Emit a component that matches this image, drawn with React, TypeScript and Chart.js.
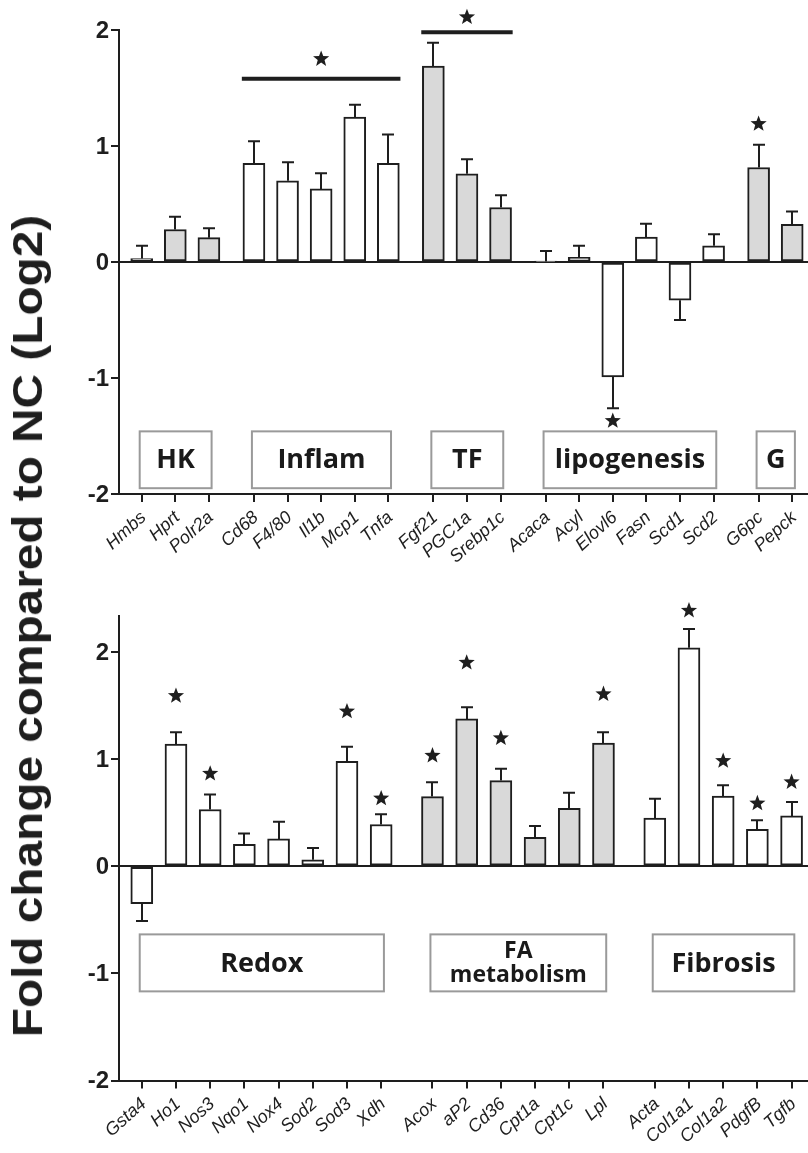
import React, { useEffect, useRef } from 'react';
import { Chart, registerables } from 'chart.js';

Chart.register(...registerables);

const INK = '#1e1e1e';
const GREY = '#d9d9d9';
const WHITE = '#ffffff';

// ---------- Top panel data ----------
const topGroups = ['HK', 'Inflam', 'TF', 'lipogenesis', 'G'];
const topGroupSizes = [3, 5, 3, 6, 2];
const topGenes = ['Hmbs', 'Hprt', 'Polr2a', 'Cd68', 'F4/80', 'Il1b', 'Mcp1', 'Tnfa', 'Fgf21', 'PGC1a', 'Srebp1c', 'Acaca', 'Acyl', 'Elovl6', 'Fasn', 'Scd1', 'Scd2', 'G6pc', 'Pepck'];
const topValues = [0.03, 0.28, 0.21, 0.85, 0.70, 0.63, 1.25, 0.85, 1.69, 0.76, 0.47, 0.005, 0.04, -0.99, 0.215, -0.33, 0.14, 0.815, 0.325];
const topErrors = [0.11, 0.11, 0.08, 0.19, 0.16, 0.135, 0.105, 0.25, 0.20, 0.125, 0.105, 0.09, 0.10, 0.27, 0.115, 0.17, 0.10, 0.195, 0.11];
const topStars = [null, null, null, null, null, null, null, null, null, null, null, null, null, -1.37, null, null, null, 1.19, null];
// group-level significance: group index, bar line level, star level
const topBracketGroups = [1, 2];
const topBracketLines = [1.58, 1.98];
const topBracketStars = [1.75, 2.11];
const topYTicks = [-2, -1, 0, 1, 2];

// ---------- Bottom panel data ----------
const bottomGroups = ['Redox', 'FA\nmetabolism', 'Fibrosis'];
const bottomGroupSizes = [8, 6, 5];
const bottomGenes = ['Gsta4', 'Ho1', 'Nos3', 'Nqo1', 'Nox4', 'Sod2', 'Sod3', 'Xdh', 'Acox', 'aP2', 'Cd36', 'Cpt1a', 'Cpt1c', 'Lpl', 'Acta', 'Col1a1', 'Col1a2', 'PdgfB', 'Tgfb'];
const bottomValues = [-0.35, 1.14, 0.53, 0.205, 0.255, 0.06, 0.98, 0.39, 0.65, 1.375, 0.80, 0.27, 0.54, 1.15, 0.45, 2.04, 0.655, 0.345, 0.47];
const bottomErrors = [0.16, 0.11, 0.14, 0.10, 0.16, 0.11, 0.135, 0.095, 0.135, 0.11, 0.11, 0.105, 0.145, 0.10, 0.18, 0.175, 0.10, 0.085, 0.13];
const bottomStars = [null, 1.59, 0.864, null, null, null, 1.445, 0.633, 1.033, 1.9, 1.195, null, null, 1.607, null, 2.387, 0.983, 0.587, 0.786];
const bottomYTicks = [-2, -1, 0, 1, 2];

type Spec = {
  genes: string[]; values: number[]; errors: number[]; stars: (number | null)[];
  groups: string[]; sizes: number[]; groupFills: string[]; gap: number;
  xMin: number; xMax: number; yMin: number; yMax: number; yTicks: number[];
  padTop: number; xAxisHeight: number; boxTop: number; boxBottom: number;
  boxFont: number; boxFontMulti: number; brackets: { g: number; line: number; star: number }[];
};

const X_FONT = 'italic 18px "Liberation Sans"';
const Y_FONT = 'bold 24px "Liberation Sans"';
const X_ROT = (-42 * Math.PI) / 180;

function buildPositions(sizes: number[], gap: number) {
  const pos: number[] = [];
  let x = 0;
  sizes.forEach((n) => {
    for (let i = 0; i < n; i++) { pos.push(x); x += 1; }
    x += gap;
  });
  return pos;
}

function drawStar(ctx: CanvasRenderingContext2D, cx: number, cy: number, r: number) {
  ctx.beginPath();
  for (let i = 0; i < 10; i++) {
    const rad = i % 2 === 0 ? r : r * 0.42;
    const a = -Math.PI / 2 + (i * Math.PI) / 5;
    const px = cx + rad * Math.cos(a);
    const py = cy + rad * Math.sin(a);
    if (i === 0) ctx.moveTo(px, py); else ctx.lineTo(px, py);
  }
  ctx.closePath();
  ctx.fill();
}

function makeChart(canvas: HTMLCanvasElement, spec: Spec) {
  const pos = buildPositions(spec.sizes, spec.gap);
  const fills: string[] = [];
  const groupStart: number[] = [];
  let k = 0;
  spec.sizes.forEach((n, g) => {
    groupStart.push(k);
    for (let i = 0; i < n; i++) fills.push(spec.groupFills[g]);
    k += n;
  });
  const data = spec.values.map((v, i) => ({ x: pos[i], y: v }));

  const overlay = {
    id: 'overlay',
    afterDatasetsDraw(chart: any) {
      const ctx: CanvasRenderingContext2D = chart.ctx;
      const xs = chart.scales.x;
      const ys = chart.scales.y;
      ctx.save();
      // error bars (away from zero)
      ctx.strokeStyle = INK;
      ctx.lineWidth = 2;
      spec.values.forEach((v, i) => {
        const x = Math.round(xs.getPixelForValue(pos[i]));
        const end = v >= 0 ? v + spec.errors[i] : v - spec.errors[i];
        const y0 = ys.getPixelForValue(v);
        const y1 = ys.getPixelForValue(end);
        ctx.beginPath();
        ctx.moveTo(x, y0); ctx.lineTo(x, y1);
        ctx.moveTo(x - 6, y1); ctx.lineTo(x + 6, y1);
        ctx.stroke();
      });
      // single significance stars
      ctx.fillStyle = INK;
      spec.stars.forEach((s, i) => {
        if (s === null) return;
        drawStar(ctx, xs.getPixelForValue(pos[i]), ys.getPixelForValue(s), 8.5);
      });
      // group significance brackets
      spec.brackets.forEach((b) => {
        const first = groupStart[b.g];
        const last = first + spec.sizes[b.g] - 1;
        const x1 = xs.getPixelForValue(pos[first] - 0.36);
        const x2 = xs.getPixelForValue(pos[last] + 0.36);
        const y = ys.getPixelForValue(b.line);
        ctx.lineWidth = 4;
        ctx.beginPath(); ctx.moveTo(x1, y); ctx.lineTo(x2, y); ctx.stroke();
        drawStar(ctx, (x1 + x2) / 2, ys.getPixelForValue(b.star), 8.5);
      });
      // group label boxes
      ctx.lineWidth = 2;
      ctx.strokeStyle = '#9a9a9a';
      spec.groups.forEach((name, g) => {
        const first = groupStart[g];
        const last = first + spec.sizes[g] - 1;
        const x1 = xs.getPixelForValue(pos[first] - 0.06);
        const x2 = xs.getPixelForValue(pos[last] + 0.08);
        const y1 = ys.getPixelForValue(spec.boxTop);
        const y2 = ys.getPixelForValue(spec.boxBottom);
        ctx.strokeRect(x1, y1, x2 - x1, y2 - y1);
        const lines = name.split('\n');
        const fs = lines.length > 1 ? spec.boxFontMulti : spec.boxFont;
        ctx.font = `bold ${fs}px "Open Sans"`;
        ctx.fillStyle = '#1a1a1a';
        ctx.textAlign = 'center';
        ctx.textBaseline = 'middle';
        const cy = (y1 + y2) / 2;
        const lh = fs * 1.04;
        lines.forEach((ln, li) => {
          ctx.fillText(ln, (x1 + x2) / 2, cy + (li - (lines.length - 1) / 2) * lh + 1);
        });
      });
      ctx.restore();
    },
    afterDraw(chart: any) {
      // tick labels, placed at the scales' own tick pixels
      const ctx: CanvasRenderingContext2D = chart.ctx;
      const xs = chart.scales.x;
      const ys = chart.scales.y;
      ctx.save();
      ctx.fillStyle = INK;
      ctx.font = Y_FONT;
      ctx.textAlign = 'right';
      ctx.textBaseline = 'middle';
      ys.ticks.forEach((t: any) => {
        ctx.fillText(String(t.value), ys.right - 10, ys.getPixelForValue(t.value) + 1);
      });
      xs.ticks.forEach((t: any, i: number) => {
        ctx.save();
        ctx.translate(xs.getPixelForValue(t.value) + 2, xs.top + 21);
        ctx.rotate(X_ROT);
        ctx.font = X_FONT;
        ctx.textAlign = 'right';
        ctx.textBaseline = 'middle';
        ctx.fillText(spec.genes[i], 0, 0);
        ctx.restore();
      });
      ctx.restore();
    },
  };

  return new Chart(canvas, {
    type: 'bar',
    data: {
      datasets: [
        {
          data: data as any,
          backgroundColor: fills,
          borderColor: INK,
          borderWidth: 2,
          borderSkipped: false,
          barThickness: 22,
        } as any,
      ],
    },
    options: {
      responsive: false,
      animation: false,
      events: [],
      layout: { padding: { top: spec.padTop, left: 0, right: 0, bottom: 0 } },
      plugins: { legend: { display: false }, tooltip: { enabled: false } },
      scales: {
        x: {
          type: 'linear',
          min: spec.xMin,
          max: spec.xMax,
          offset: false,
          afterBuildTicks: (scale: any) => { scale.ticks = pos.map((v) => ({ value: v })); },
          afterFit: (scale: any) => {
            scale.height = spec.xAxisHeight;
            scale.paddingLeft = 0;
            scale.paddingRight = 0;
          },
          ticks: { display: false, autoSkip: false },
          grid: {
            offset: false, drawOnChartArea: false, drawTicks: true, tickLength: 8,
            tickColor: INK, tickWidth: 2, lineWidth: 2, color: INK,
          },
          border: { color: INK, width: 2 },
        } as any,
        y: {
          type: 'linear',
          min: spec.yMin,
          max: spec.yMax,
          afterBuildTicks: (scale: any) => { scale.ticks = spec.yTicks.map((v) => ({ value: v })); },
          afterFit: (scale: any) => {
            scale.width = 119;
            scale.paddingTop = 0;
            scale.paddingBottom = 0;
          },
          ticks: { display: false },
          grid: {
            offset: false, drawOnChartArea: true, drawTicks: true, tickLength: 8,
            tickColor: INK, tickWidth: 2, lineWidth: 2,
            color: (c: any) => (c.tick && c.tick.value === 0 ? INK : 'rgba(0,0,0,0)'),
          },
          border: { color: INK, width: 2 },
        } as any,
      },
    },
    plugins: [overlay],
  } as any);
}

const topSpec: Spec = {
  genes: topGenes, values: topValues, errors: topErrors, stars: topStars,
  groups: topGroups, sizes: topGroupSizes, groupFills: [GREY, WHITE, GREY, WHITE, GREY],
  gap: 0.34, xMin: -0.676, xMax: 19.83, yMin: -2, yMax: 2, yTicks: topYTicks,
  padTop: 30, xAxisHeight: 96, boxTop: -1.46, boxBottom: -1.95, boxFont: 27, boxFontMulti: 23,
  brackets: topBracketGroups.map((g, i) => ({ g, line: topBracketLines[i], star: topBracketStars[i] })),
};

const bottomSpec: Spec = {
  genes: bottomGenes, values: bottomValues, errors: bottomErrors, stars: bottomStars,
  groups: bottomGroups, sizes: bottomGroupSizes, groupFills: [WHITE, GREY, WHITE],
  gap: 0.5, xMin: -0.666, xMax: 19.48, yMin: -2, yMax: 2.336, yTicks: bottomYTicks,
  padTop: 26, xAxisHeight: 72.5, boxTop: -0.636, boxBottom: -1.168, boxFont: 27, boxFontMulti: 23,
  brackets: [],
};

export default function App() {
  const topRef = useRef<HTMLCanvasElement>(null);
  const bottomRef = useRef<HTMLCanvasElement>(null);

  useEffect(() => {
    document.body.style.margin = '0';
    const c1 = makeChart(topRef.current as HTMLCanvasElement, topSpec);
    const c2 = makeChart(bottomRef.current as HTMLCanvasElement, bottomSpec);
    return () => {
      c1.destroy();
      c2.destroy();
    };
  }, []);

  return (
    <div style={{ position: 'relative', width: 808, height: 1153, overflow: 'hidden', background: '#fff' }}>
      <canvas ref={topRef} width={808} height={590} style={{ position: 'absolute', left: 0, top: 0 }} />
      <canvas ref={bottomRef} width={808} height={563} style={{ position: 'absolute', left: 0, top: 590 }} />
      <div
        style={{
          position: 'absolute', left: 28, top: 626,
          transform: 'translate(-50%, -50%) rotate(-90deg) scaleX(1.137)',
          whiteSpace: 'nowrap', font: 'bold 42px "Liberation Sans", Arial, sans-serif',
          lineHeight: 1, color: INK,
        }}
      >
        Fold change compared to NC (Log2)
      </div>
    </div>
  );
}
